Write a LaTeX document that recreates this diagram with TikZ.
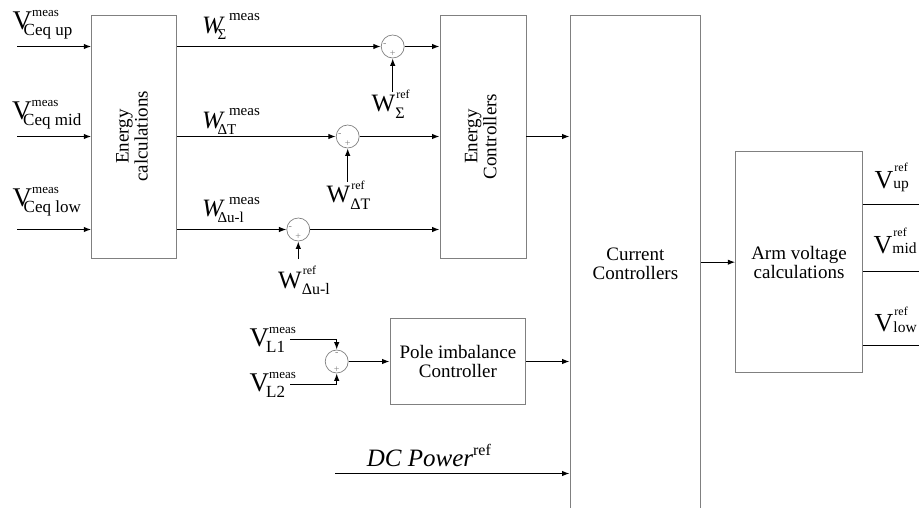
\documentclass[tikz,border=0pt]{standalone}
\usepackage{fontspec}
\setmainfont{Liberation Serif}
\usepackage{xcolor}
\usetikzlibrary{arrows.meta, positioning}

\definecolor{boxgray}{RGB}{128,128,128}
% signal names: base letter, superscript, subscript
\newcommand{\vmeas}[2][-8.5pt]{{\fontsize{27}{27}\selectfont V}%
  \rlap{\raisebox{13.3pt}{\fontsize{13}{13}\selectfont meas}}%
  \kern#1\raisebox{-6pt}{\fontsize{17}{17}\selectfont #2}}
\newcommand{\wmeas}[1]{{\fontsize{25}{25}\selectfont\itshape W}%
  \rlap{\kern6pt\raisebox{12.6pt}{\fontsize{15}{15}\selectfont meas}}%
  \kern-5.5pt\raisebox{-6pt}{\fontsize{15}{15}\selectfont #1}}
\newcommand{\wref}[1]{{\fontsize{25}{25}\selectfont W}%
  \rlap{\kern1pt\raisebox{13.4pt}{\fontsize{12}{12}\selectfont ref}}%
  \raisebox{-6.6pt}{\fontsize{16}{16}\selectfont #1}}
\newcommand{\vref}[1]{{\fontsize{26}{26}\selectfont V}%
  \rlap{\kern1pt\raisebox{16.6pt}{\fontsize{12}{12}\selectfont ref}}%
  \raisebox{-0.5pt}{\fontsize{15.5}{15.5}\selectfont #1}}

\begin{document}
\begin{tikzpicture}[
  x=1pt, y=-1pt,
  blk/.style={draw=boxgray, line width=0.9pt, inner sep=0pt, align=center,
              font=\fontsize{19}{19}\selectfont},
  sumj/.style={draw=boxgray, line width=0.7pt, circle, minimum size=23pt, inner sep=0pt},
  sgn/.style={inner sep=0pt, text=boxgray, font=\fontsize{10}{10}\selectfont},
  lbl/.style={inner sep=0pt, anchor=base west},
  arr/.style={-{Latex[length=7.5pt,width=5.5pt]}, line width=1.2pt},
  wire/.style={line width=1.2pt},
]
\useasboundingbox (0,0) rectangle (919,508);

% Blocks
\node[blk, minimum width=85pt, minimum height=243pt] (ecalc) at (134.2,136.5)
  {\rotatebox{90}{\begin{tabular}{@{}c@{}}Energy\\calculations\end{tabular}}};
\node[blk, minimum width=86pt, minimum height=243pt] (ectrl) at (483,136.5)
  {\rotatebox{90}{\begin{tabular}{@{}c@{}}Energy\\Controllers\end{tabular}}};
% bottom edge lies below the page
\node[blk, minimum width=130.7pt, minimum height=497pt] (curr) at (635.4,263.5)
  {Current\\Controllers};
\node[blk, minimum width=126.6pt, minimum height=221pt] (arm) at (799,262.2)
  {Arm voltage\\calculations};
\node[blk, minimum width=135.7pt, minimum height=86pt] (pole) at (457.9,361.5)
  {Pole imbalance\\Controller};

% Summing junctions
\node[sumj] (s1) at (392.7,46.5) {};
\node[sumj] (s2) at (347.7,136.5) {};
\node[sumj] (s3) at (298.3,229.5) {};
\node[sumj] (s4) at (336.7,361.5) {};
\foreach \s in {s1,s2,s3}{
  \node[sgn] at ([xshift=-8pt,yshift=1.5pt]\s.center) {-};
  \node[sgn] at ([yshift=-7pt]\s.center) {+};
}
\node[sgn] at ([yshift=7.5pt]s4.center) {-};
\node[sgn] at ([yshift=-8pt]s4.center) {+};

% Measured arm voltages
\node[lbl] (vup)  at (12.5,30)  {\vmeas{Ceq up}};
\node[lbl] (vmid) at (12,120)   {\vmeas{Ceq mid}};
\node[lbl] (vlow) at (12.5,207) {\vmeas{Ceq low}};
\coordinate (in1) at (17,46.5);
\coordinate (in2) at (17,136.5);
\coordinate (in3) at (17,229.5);
\foreach \c in {in1,in2,in3}
  \draw[arr] (\c) -- (\c -| ecalc.west);

% Energy signals
\node[lbl] (wsm) at (202,33.3)  {\wmeas{Σ}};
\node[lbl] (wtm) at (202,128.3) {\wmeas{ΔT}};
\node[lbl] (wum) at (202,216.7) {\wmeas{Δu-l}};
\foreach \s in {s1,s2,s3}{
  \draw[arr] (ecalc.east |- \s) -- (\s.west);
  \draw[arr] (\s.east) -- (\s -| ectrl.west);
}

% References
\node[lbl] (wsr) at (371.5,111.7) {\wref{Σ}};
\node[lbl] (wtr) at (326.5,202.5) {\wref{ΔT}};
\node[lbl] (wur) at (278,288)     {\wref{Δu-l}};
\coordinate (r1) at (392.7,92);
\coordinate (r2) at (347.7,181.7);
\coordinate (r3) at (298.3,259);
\draw[arr] (r1) -- (s1.south);
\draw[arr] (r2) -- (s2.south);
\draw[arr] (r3) -- (s3.south);

% Pole imbalance
\node[lbl] (vl1) at (249.5,346.7) {\vmeas[-3pt]{L1}};
\node[lbl] (vl2) at (249.5,391.7) {\vmeas[-3pt]{L2}};
\coordinate (l1) at (290,339.5);
\coordinate (l2) at (290,384.5);
\draw[arr] (l1) -| (s4.north);
\draw[arr] (l2) -| (s4.south);
\draw[arr] (s4.east) -- (pole.west);

% Into current controllers
\draw[arr] (ectrl.east) -- (ectrl.east -| curr.west);
\draw[arr] (pole.east) -- (pole.east -| curr.west);
\node[lbl, font=\fontsize{25}{25}\selectfont] (dcp) at (366.7,466.7)
  {{\itshape DC Power}\raisebox{11.7pt}{\fontsize{16}{16}\selectfont ref}};
\coordinate (dc) at (335,473.5);
\draw[arr] (dc) -- (dc -| curr.west);
\draw[arr] (curr.east |- arm.west) -- (arm.west);

% Arm voltage references
\node[lbl] (vupr)  at (874.5,188.3) {\vref{up}};
\node[lbl] (vmidr) at (873.5,253.3) {\vref{mid}};
\node[lbl] (vlowr) at (874.5,331.7) {\vref{low}};
\coordinate (o1) at (919,204.5);
\coordinate (o2) at (919,271.5);
\coordinate (o3) at (919,345.5);
\foreach \c in {o1,o2,o3}
  \draw[wire] (\c -| arm.east) -- (\c);

\end{tikzpicture}
\end{document}
